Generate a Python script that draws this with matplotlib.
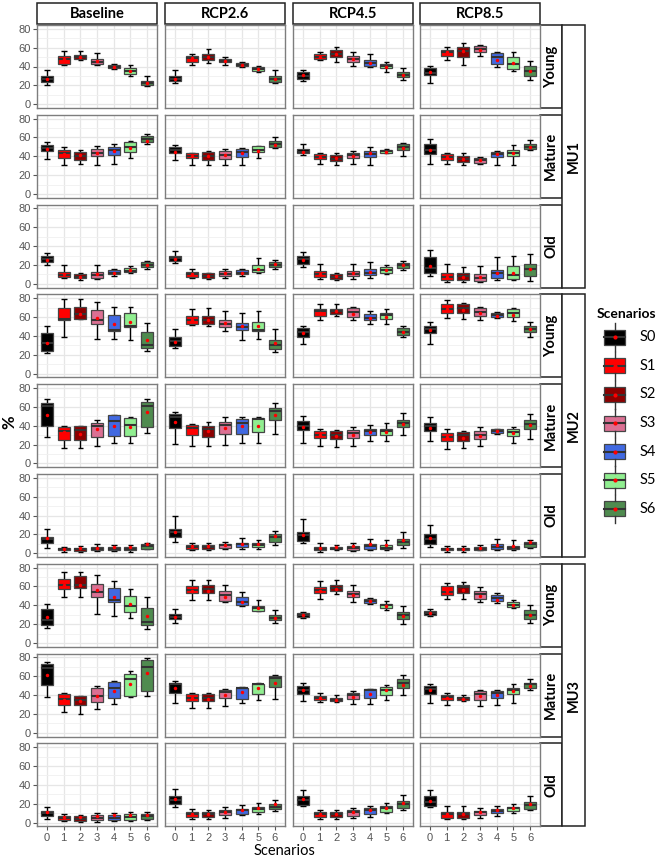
import matplotlib
matplotlib.use("Agg")
import matplotlib.pyplot as plt
from matplotlib.patches import Rectangle

# scenario names and fill colours
scenarios = ["S0", "S1", "S2", "S3", "S4", "S5", "S6"]
scenario_ticks = [0, 1, 2, 3, 4, 5, 6]
colors = ["#000000", "#ff0000", "#8b0000", "#db7093", "#4169e1", "#90ee90", "#4f8b4f"]

climates = ["Baseline", "RCP2.6", "RCP4.5", "RCP8.5"]
units = ["MU1", "MU2", "MU3"]
ages = ["Young", "Mature", "Old"]

# each box: (whisker low, q1, median, q3, whisker high, mean) in %
mu1_young_base = [(20, 24, 27, 30, 36, 27), (42, 43, 48, 51, 56, 48), (47, 48, 50, 52, 56, 50), (42, 43, 45, 48, 54, 46), (37, 38, 40, 42, 43, 40), (30, 32, 35, 38, 42, 35), (19, 20, 22, 25, 30, 23)]
mu1_young_26 = [(22, 25, 27, 30, 36, 27), (42, 45, 49, 51, 53, 49), (44, 47, 50, 53, 59, 50), (42, 45, 46, 48, 50, 46), (39, 41, 42, 44, 45, 42), (34, 35, 37, 39, 41, 37), (22, 24, 27, 30, 36, 27)]
mu1_young_45 = [(25, 27, 30, 34, 36, 31), (47, 48, 50, 53, 55, 50), (45, 50, 53, 57, 61, 53), (41, 45, 48, 51, 55, 48), (39, 41, 44, 47, 53, 44), (34, 38, 41, 43, 45, 40), (26, 29, 31, 34, 38, 31)]
mu1_young_85 = [(22, 31, 33, 38, 41, 34), (47, 51, 55, 58, 61, 55), (42, 50, 56, 61, 65, 56), (51, 55, 59, 62, 63, 58), (39, 43, 50, 54, 55, 47), (35, 37, 43, 50, 55, 44), (26, 30, 35, 41, 46, 35)]

mu1_mature_base = [(37, 46, 49, 52, 55, 48), (31, 38, 43, 47, 50, 42), (32, 36, 40, 45, 47, 41), (31, 40, 44, 48, 51, 44), (32, 41, 47, 50, 53, 46), (38, 45, 50, 55, 56, 49), (53, 55, 58, 61, 64, 56)]
mu1_mature_26 = [(36, 43, 47, 50, 52, 45), (31, 38, 40, 43, 44, 40), (31, 36, 40, 45, 46, 40), (31, 37, 41, 46, 48, 41), (31, 39, 45, 48, 49, 44), (38, 45, 47, 51, 51, 46), (49, 50, 53, 56, 60, 52)]
mu1_mature_45 = [(41, 43, 45, 48, 53, 45), (32, 37, 39, 42, 44, 39), (31, 35, 37, 41, 43, 38), (32, 38, 41, 44, 46, 40), (31, 39, 42, 46, 50, 43), (43, 44, 46, 47, 48, 45), (40, 47, 50, 53, 54, 49)]
mu1_mature_85 = [(32, 42, 47, 53, 58, 47), (32, 36, 39, 42, 43, 39), (31, 34, 37, 40, 43, 37), (32, 33, 36, 38, 39, 36), (31, 39, 42, 45, 46, 42), (31, 40, 43, 47, 52, 43), (47, 48, 50, 53, 57, 50)]

mu1_old_base = [(20, 23, 26, 29, 33, 25), (6, 7, 9, 13, 20, 10), (4, 6, 7, 10, 11, 7), (5, 6, 9, 13, 20, 10), (8, 10, 12, 15, 16, 12), (12, 13, 14, 17, 19, 15), (16, 18, 20, 23, 24, 20)]
mu1_old_26 = [(22, 24, 27, 30, 35, 26), (6, 7, 10, 13, 16, 10), (5, 6, 8, 11, 12, 8), (6, 8, 10, 14, 16, 11), (8, 10, 12, 15, 16, 12), (11, 13, 15, 20, 27, 16), (16, 18, 20, 23, 25, 21)]
mu1_old_45 = [(18, 21, 26, 30, 34, 25), (5, 7, 10, 14, 21, 10), (4, 5, 7, 10, 11, 8), (5, 8, 10, 14, 21, 11), (6, 9, 12, 16, 23, 13), (10, 12, 15, 18, 20, 15), (15, 17, 20, 22, 24, 20)]
mu1_old_85 = [(8, 11, 17, 28, 36, 19), (2, 4, 7, 11, 21, 7), (2, 4, 8, 11, 18, 7), (2, 3, 6, 10, 19, 7), (4, 6, 11, 15, 28, 11), (4, 5, 9, 19, 29, 12), (3, 8, 16, 21, 32, 16)]

mu2_young_base = [(22, 24, 33, 43, 50, 33), (39, 57, 58, 70, 79, 64), (58, 58, 63, 71, 79, 63), (37, 53, 57, 67, 76, 59), (37, 45, 46, 62, 71, 53), (36, 49, 51, 64, 71, 55), (24, 27, 30, 44, 54, 36)]
mu2_young_26 = [(27, 29, 35, 39, 47, 34), (52, 53, 57, 61, 69, 57), (50, 53, 57, 61, 70, 57), (45, 49, 53, 57, 66, 54), (36, 46, 49, 54, 64, 50), (37, 45, 46, 55, 66, 50), (23, 26, 30, 36, 47, 32)]
mu2_young_45 = [(31, 39, 44, 48, 50, 43), (57, 61, 66, 69, 74, 64), (61, 63, 66, 69, 74, 66), (57, 60, 65, 70, 71, 63), (53, 57, 59, 63, 66, 59), (53, 58, 62, 64, 68, 60), (39, 41, 44, 48, 51, 44)]
mu2_young_85 = [(31, 43, 47, 51, 55, 46), (59, 64, 68, 74, 78, 68), (58, 64, 70, 74, 75, 67), (57, 61, 65, 70, 71, 64), (59, 60, 62, 64, 65, 61), (56, 60, 64, 68, 70, 62), (39, 44, 47, 51, 55, 47)]

mu2_mature_base = [(28, 40, 61, 64, 68, 51), (16, 25, 34, 39, 40, 33), (16, 25, 35, 40, 40, 31), (19, 28, 40, 43, 46, 36), (22, 29, 45, 51, 51, 40), (22, 29, 41, 48, 49, 39), (32, 39, 61, 65, 68, 54)]
mu2_mature_26 = [(21, 38, 49, 52, 55, 44), (19, 30, 38, 41, 42, 35), (18, 28, 36, 40, 44, 34), (20, 31, 41, 44, 49, 38), (22, 31, 43, 47, 49, 40), (22, 33, 47, 48, 49, 40), (31, 46, 56, 59, 64, 51)]
mu2_mature_45 = [(22, 35, 40, 45, 50, 39), (18, 27, 30, 34, 36, 30), (17, 26, 30, 34, 35, 29), (19, 27, 32, 35, 39, 30), (24, 30, 34, 36, 41, 33), (24, 30, 34, 36, 43, 33), (30, 39, 43, 46, 53, 42)]
mu2_mature_85 = [(24, 34, 40, 43, 49, 38), (15, 24, 28, 32, 37, 28), (16, 24, 30, 33, 34, 27), (18, 26, 30, 34, 39, 29), (31, 32, 34, 36, 37, 34), (22, 29, 33, 36, 39, 32), (26, 37, 42, 46, 52, 41)]

mu2_old_base = [(6, 11, 15, 17, 26, 16), (1, 3, 4, 6, 7, 5), (1, 2, 4, 6, 8, 6), (2, 3, 5, 7, 10, 6), (2, 3, 5, 7, 9, 7), (1, 3, 5, 7, 9, 7), (4, 5, 8, 10, 11, 10)]
mu2_old_26 = [(12, 17, 22, 26, 39, 23), (3, 5, 7, 9, 11, 8), (3, 5, 7, 9, 11, 8), (4, 6, 9, 10, 12, 9), (4, 7, 10, 11, 16, 10), (4, 7, 9, 11, 14, 10), (9, 12, 17, 20, 24, 18)]
mu2_old_45 = [(11, 13, 19, 23, 36, 19), (1, 3, 5, 7, 11, 6), (3, 4, 5, 7, 9, 7), (2, 3, 6, 8, 11, 8), (3, 4, 8, 10, 15, 10), (3, 4, 6, 9, 14, 9), (6, 9, 12, 15, 22, 14)]
mu2_old_85 = [(7, 10, 15, 20, 30, 16), (1, 3, 4, 6, 8, 5), (1, 3, 4, 6, 8, 5), (3, 3, 5, 7, 9, 6), (3, 4, 7, 10, 15, 9), (3, 4, 6, 8, 14, 8), (6, 7, 10, 12, 14, 12)]

mu3_young_base = [(16, 19, 24, 36, 41, 28), (49, 57, 61, 68, 75, 62), (49, 58, 62, 71, 75, 62), (31, 49, 54, 63, 72, 56), (29, 43, 46, 58, 66, 49), (27, 33, 39, 50, 57, 41), (15, 19, 22, 37, 49, 29)]
mu3_young_26 = [(21, 25, 28, 31, 36, 28), (46, 53, 56, 60, 67, 55), (46, 53, 57, 61, 67, 55), (43, 45, 51, 55, 61, 49), (39, 40, 43, 49, 54, 44), (34, 34, 37, 39, 46, 37), (21, 24, 27, 30, 35, 27)]
mu3_young_45 = [(27, 28, 30, 32, 33, 30), (47, 53, 56, 59, 66, 55), (52, 55, 58, 61, 67, 57), (44, 49, 52, 55, 61, 51), (41, 42, 45, 47, 48, 45), (35, 37, 40, 41, 45, 39), (20, 26, 30, 33, 39, 29)]
mu3_young_85 = [(29, 30, 32, 34, 36, 32), (47, 51, 54, 60, 64, 55), (47, 53, 59, 61, 65, 56), (44, 47, 52, 55, 59, 50), (42, 45, 48, 51, 53, 46), (37, 38, 40, 43, 46, 40), (21, 26, 30, 35, 40, 30)]

mu3_mature_base = [(38, 51, 69, 73, 75, 61), (22, 29, 36, 41, 42, 35), (20, 29, 35, 39, 39, 34), (25, 33, 39, 48, 50, 39), (31, 37, 47, 54, 55, 44), (38, 39, 57, 62, 66, 52), (39, 44, 70, 77, 79, 63)]
mu3_mature_26 = [(32, 42, 52, 53, 55, 47), (26, 34, 37, 41, 42, 37), (26, 34, 37, 41, 42, 36), (28, 37, 43, 45, 46, 40), (32, 36, 47, 48, 49, 43), (35, 41, 52, 52, 53, 47), (36, 49, 58, 60, 61, 53)]
mu3_mature_45 = [(34, 41, 45, 50, 53, 45), (33, 35, 37, 39, 42, 37), (33, 34, 35, 37, 40, 35), (31, 36, 40, 42, 44, 38), (31, 37, 45, 46, 46, 41), (35, 40, 45, 49, 51, 45), (40, 48, 53, 57, 61, 51)]
mu3_mature_85 = [(32, 41, 46, 50, 52, 45), (30, 35, 38, 40, 42, 37), (34, 35, 37, 38, 40, 36), (28, 35, 41, 44, 45, 39), (30, 37, 42, 44, 45, 40), (32, 41, 45, 47, 52, 44), (45, 48, 52, 53, 57, 50)]

mu3_old_base = [(4, 7, 10, 12, 17, 11), (2, 3, 5, 7, 9, 6), (1, 2, 4, 7, 8, 6), (1, 3, 5, 8, 10, 7), (2, 3, 5, 8, 10, 8), (2, 3, 6, 9, 11, 8), (3, 4, 7, 9, 11, 8)]
mu3_old_26 = [(17, 20, 24, 28, 36, 25), (4, 6, 9, 11, 14, 9), (4, 6, 9, 11, 13, 9), (5, 8, 11, 13, 17, 11), (8, 9, 13, 14, 19, 13), (9, 11, 14, 17, 21, 16), (12, 14, 17, 20, 24, 20)]
mu3_old_45 = [(18, 19, 24, 28, 35, 25), (4, 6, 9, 11, 13, 9), (4, 6, 9, 11, 13, 9), (5, 7, 11, 13, 16, 11), (6, 9, 13, 15, 18, 13), (10, 11, 15, 18, 21, 16), (13, 15, 20, 23, 29, 21)]
mu3_old_85 = [(17, 18, 22, 28, 35, 23), (4, 5, 9, 11, 18, 9), (4, 5, 9, 11, 18, 9), (5, 8, 11, 12, 16, 11), (7, 10, 12, 14, 18, 13), (10, 12, 15, 17, 20, 16), (13, 14, 19, 22, 28, 20)]

# rows of the facet grid, top to bottom
grid_rows = [
    [mu1_young_base, mu1_young_26, mu1_young_45, mu1_young_85],
    [mu1_mature_base, mu1_mature_26, mu1_mature_45, mu1_mature_85],
    [mu1_old_base, mu1_old_26, mu1_old_45, mu1_old_85],
    [mu2_young_base, mu2_young_26, mu2_young_45, mu2_young_85],
    [mu2_mature_base, mu2_mature_26, mu2_mature_45, mu2_mature_85],
    [mu2_old_base, mu2_old_26, mu2_old_45, mu2_old_85],
    [mu3_young_base, mu3_young_26, mu3_young_45, mu3_young_85],
    [mu3_mature_base, mu3_mature_26, mu3_mature_45, mu3_mature_85],
    [mu3_old_base, mu3_old_26, mu3_old_45, mu3_old_85],
]

W, H = 660, 859
fig = plt.figure(figsize=(W / 100, H / 100), dpi=100)

# overlay in pixel coordinates for strips, labels and legend
ov = fig.add_axes([0, 0, 1, 1])
ov.set_xlim(0, W)
ov.set_ylim(H, 0)
ov.axis("off")

col_left = [37, 165, 293, 420]
pan_w = 120
pan_h = 83
row_top = [25 + i * 89.8 for i in range(9)]
strip_font = ["Lato", "DejaVu Sans"]


def px_rect(x, y, w, h):
    return [x / W, 1 - (y + h) / H, w / W, h / H]


for r, row in enumerate(grid_rows):
    for c, boxes in enumerate(row):
        ax = fig.add_axes(px_rect(col_left[c], row_top[r], pan_w, pan_h))
        ax.set_xlim(-0.6, 6.6)
        ax.set_ylim(-4, 84)
        ax.set_yticks([0, 20, 40, 60, 80])
        ax.set_yticks([10, 30, 50, 70], minor=True)
        ax.set_xticks(scenario_ticks)
        ax.grid(True, which="major", color="#e6e6e6", lw=0.9)
        ax.grid(True, which="minor", axis="y", color="#f0f0f0", lw=0.6)
        ax.set_axisbelow(True)
        for s in ax.spines.values():
            s.set_color("#7d7d7d")
            s.set_linewidth(1.0)

        lo = [b[0] for b in boxes]
        hi = [b[4] for b in boxes]
        means = [b[5] for b in boxes]
        # error bars with caps
        ax.vlines(scenario_ticks, lo, hi, color="black", lw=1.0, zorder=2)
        ax.hlines(lo, [x - 0.17 for x in scenario_ticks], [x + 0.17 for x in scenario_ticks], color="black", lw=1.0, zorder=2)
        ax.hlines(hi, [x - 0.17 for x in scenario_ticks], [x + 0.17 for x in scenario_ticks], color="black", lw=1.0, zorder=2)

        stats = [{"whislo": b[1], "q1": b[1], "med": b[2], "q3": b[3], "whishi": b[3], "fliers": []} for b in boxes]
        bp = ax.bxp(stats, positions=scenario_ticks, widths=0.72, patch_artist=True,
                    showcaps=False, showfliers=False,
                    whiskerprops={"linewidth": 0},
                    medianprops={"color": "#333333", "linewidth": 1.5},
                    boxprops={"edgecolor": "#454545", "linewidth": 0.9}, manage_ticks=False)
        for patch, col in zip(bp["boxes"], colors):
            patch.set_facecolor(col)
            patch.set_zorder(3)
        for m in bp["medians"]:
            m.set_zorder(4)
        ax.plot(scenario_ticks, means, "o", color="red", ms=2.5, mec="none", zorder=5)

        ax.tick_params(length=3, color="#555555", labelsize=8, labelcolor="#555555", pad=1.5)
        if c != 0:
            ax.tick_params(axis="y", left=False, labelleft=False)
        if r != 8:
            ax.tick_params(axis="x", bottom=False, labelbottom=False)
        else:
            ax.set_xticklabels([str(t) for t in scenario_ticks])
        for lab in ax.get_yticklabels() + ax.get_xticklabels():
            lab.set_family("Liberation Sans")
        ax.tick_params(which="minor", left=False)

# column strips
for c, name in enumerate(climates):
    ov.add_patch(Rectangle((col_left[c], 3), pan_w, 21, fc="white", ec="#222222", lw=1.1))
    ov.text(col_left[c] + pan_w / 2, 14, name, ha="center", va="center",
            fontsize=10.5, fontweight="bold", family=strip_font)

# row strips and management-unit strips
sx = col_left[3] + pan_w
for r in range(9):
    ov.add_patch(Rectangle((sx, row_top[r]), 22, pan_h, fc="white", ec="#222222", lw=1.1))
    ov.text(sx + 11, row_top[r] + pan_h / 2, ages[r % 3], rotation=90, ha="center", va="center",
            fontsize=10.5, fontweight="bold", family=strip_font)
for u, name in enumerate(units):
    top = row_top[u * 3]
    bottom = row_top[u * 3 + 2] + pan_h
    ov.add_patch(Rectangle((sx + 22, top), 23, bottom - top, fc="white", ec="#222222", lw=1.1))
    ov.text(sx + 33.5, (top + bottom) / 2, name, rotation=90, ha="center", va="center",
            fontsize=10.5, fontweight="bold", family=strip_font)

# axis titles
ov.text(9, 422, "%", rotation=90, ha="center", va="center", fontsize=12, fontweight="bold", family=strip_font)
ov.text(285, 851, "Scenarios", ha="center", va="center", fontsize=10.5, family=strip_font)

# legend
ov.text(597, 314, "Scenarios", ha="left", va="center", fontsize=10, fontweight="bold", family=strip_font)
for i, (lab, col) in enumerate(zip(scenarios, colors)):
    cy = 337.3 + i * 28.6
    kx = 614.5
    ov.plot([kx, kx], [cy - 14, cy - 7.5], color="#333333", lw=1.0)
    ov.plot([kx, kx], [cy + 7.5, cy + 14], color="#333333", lw=1.0)
    ov.add_patch(Rectangle((604, cy - 7.5), 21, 15, fc=col, ec="#454545", lw=0.9))
    ov.plot([604, 625], [cy, cy], color="#333333", lw=1.5)
    ov.plot([kx], [cy], "o", color="red", ms=3, mec="none")
    ov.text(640, cy, lab, ha="left", va="center", fontsize=10.5, family=strip_font)

fig.savefig("out.png", dpi=100)
